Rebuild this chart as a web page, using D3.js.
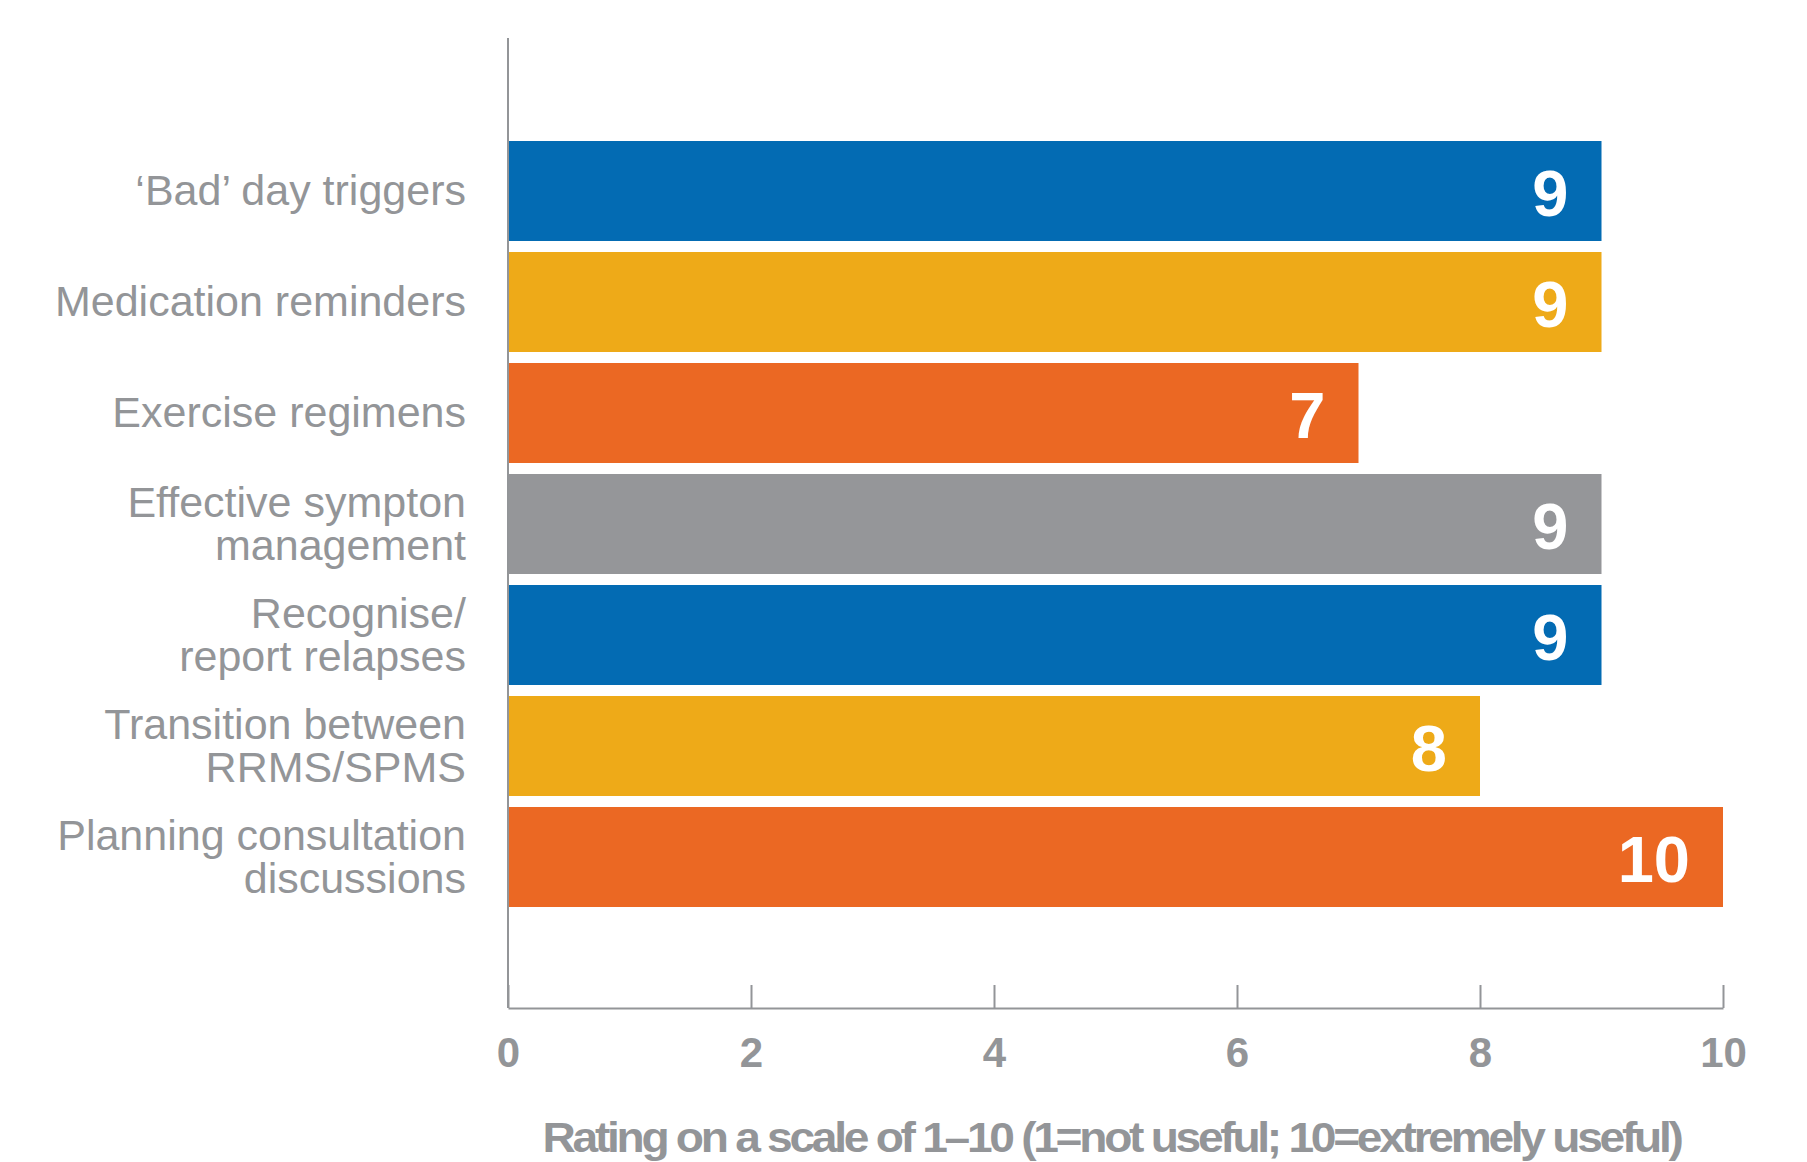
<!DOCTYPE html>
<html>
<head>
<meta charset="utf-8">
<script src="https://cdn.jsdelivr.net/npm/d3@7"></script>
<style>
  html, body { margin: 0; padding: 0; background: #ffffff; }
  svg { display: block; }
</style>
</head>
<body>
<svg id="chart" width="1807" height="1162"></svg>
<script>
// Usefulness ratings per app feature
const categories = [
  "‘Bad’ day triggers",
  "Medication reminders",
  "Exercise regimens",
  "Effective sympton\nmanagement",
  "Recognise/\nreport relapses",
  "Transition between\nRRMS/SPMS",
  "Planning consultation\ndiscussions"
];
const ratings = [9, 9, 7, 9, 9, 8, 10];
const barColors = ["#036bb3", "#eeaa18", "#eb6823", "#959699", "#036bb3", "#eeaa18", "#eb6823"];
const xTicks = [0, 2, 4, 6, 8, 10];
const xTitle = "Rating on a scale of 1–10 (1=not useful; 10=extremely useful)";

const grey = "#939598";
const svg = d3.select("#chart");

const x = d3.scaleLinear().domain([0, 10]).range([508, 1723]);
const y = d3.scaleBand()
  .domain(categories)
  .range([141, 907])
  .paddingInner(11 / 111)
  .paddingOuter(0);

const axisTop = 38, axisBottomY = 1008;

// bars
svg.append("g")
  .selectAll("rect")
  .data(categories)
  .join("rect")
  .attr("x", x(0))
  .attr("y", d => y(d))
  .attr("width", (d, i) => x(ratings[i]) - x(0))
  .attr("height", y.bandwidth())
  .attr("fill", (d, i) => barColors[i]);

// value labels inside bar ends
svg.append("g")
  .selectAll("text")
  .data(categories)
  .join("text")
  .attr("x", (d, i) => x(ratings[i]) - 33)
  .attr("y", d => y(d) + y.bandwidth() / 2 + 25)
  .attr("text-anchor", "end")
  .attr("fill", "#ffffff")
  .style("font-family", "'Liberation Sans', Arial, sans-serif")
  .style("font-weight", "bold")
  .style("font-size", "65px")
  .text((d, i) => ratings[i]);

// category labels, right-aligned, one or two lines
const labelG = svg.append("g")
  .style("font-family", "'Liberation Sans', Arial, sans-serif")
  .style("font-size", "43px")
  .attr("fill", grey)
  .attr("text-anchor", "end");

categories.forEach(c => {
  const lines = c.split("\n");
  const cy = y(c) + y.bandwidth() / 2;
  const t = labelG.append("text").attr("x", 466);
  if (lines.length === 1) {
    t.append("tspan").attr("x", 466).attr("y", cy + 14).text(lines[0]);
  } else {
    t.append("tspan").attr("x", 466).attr("y", cy - 7).text(lines[0]);
    t.append("tspan").attr("x", 466).attr("y", cy + 36).text(lines[1]);
  }
});

// vertical axis line
svg.append("line")
  .attr("x1", x(0)).attr("x2", x(0))
  .attr("y1", axisTop).attr("y2", axisBottomY)
  .attr("stroke", grey)
  .attr("stroke-width", 2);

// bottom axis with inward ticks
const xAxis = d3.axisBottom(x)
  .tickValues(xTicks)
  .tickSizeInner(-23)
  .tickSizeOuter(0)
  .tickPadding(29)
  .tickFormat(d3.format("d"));

const gx = svg.append("g")
  .attr("transform", `translate(0,${axisBottomY})`)
  .call(xAxis);

gx.select(".domain").attr("stroke", grey).attr("stroke-width", 2);
gx.selectAll(".tick line").attr("stroke", grey).attr("stroke-width", 2);
gx.selectAll(".tick text")
  .attr("fill", grey)
  .style("font-family", "'Liberation Sans', Arial, sans-serif")
  .style("font-weight", "bold")
  .style("font-size", "42px");

// axis title
svg.append("text")
  .attr("x", (x(0) + x(10)) / 2 - 4)
  .attr("y", 1152)
  .attr("text-anchor", "middle")
  .attr("fill", grey)
  .attr("textLength", 1138)
  .attr("lengthAdjust", "spacingAndGlyphs")
  .style("font-family", "'Liberation Sans', Arial, sans-serif")
  .style("font-weight", "bold")
  .style("font-size", "42px")
  .style("letter-spacing", "-3px")
  .text(xTitle);
</script>
</body>
</html>
